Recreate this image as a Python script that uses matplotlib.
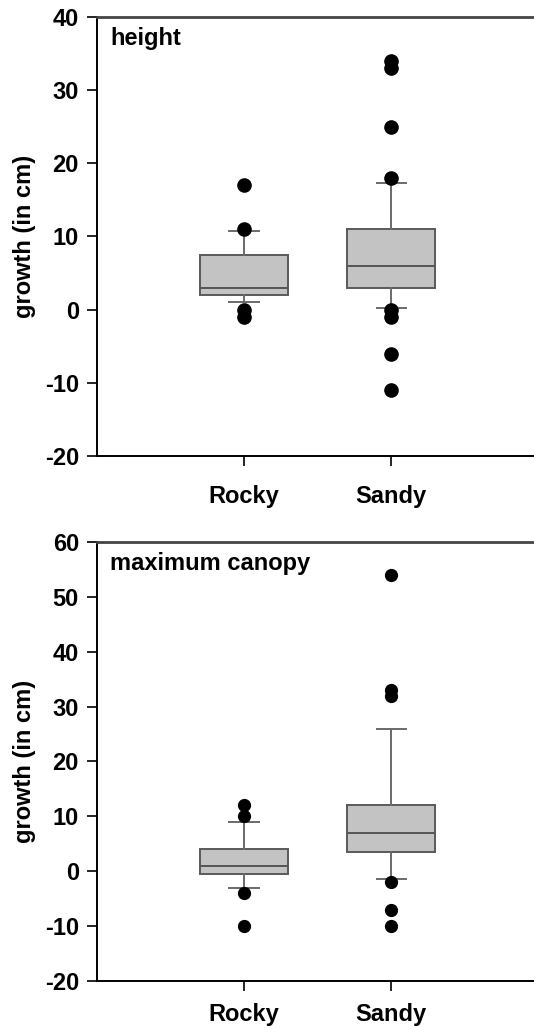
import matplotlib
matplotlib.use('Agg')
import matplotlib.pyplot as plt

plt.rcParams['font.family'] = ['Liberation Sans', 'DejaVu Sans']
plt.rcParams['font.weight'] = 'bold'
plt.rcParams['axes.unicode_minus'] = False

sites = ['Rocky', 'Sandy']

# height panel: quartiles, medians, whisker ends, outliers
height_q1 = [2, 3]
height_med = [3, 6]
height_q3 = [7.5, 11]
height_lo = [1, 0.2]
height_hi = [10.8, 17.3]
height_out = [[17, 11, 0, -1], [34, 33, 25, 18, 0, -1, -6, -11]]

# maximum canopy panel
canopy_q1 = [-0.5, 3.5]
canopy_med = [1, 7]
canopy_q3 = [4, 12]
canopy_lo = [-3, -1.5]
canopy_hi = [9, 26]
canopy_out = [[12, 10, -4, -10], [54, 33, 32, -2, -7, -10]]


def make_stats(q1, med, q3, lo, hi, out):
    stats = []
    for i in range(len(sites)):
        stats.append({'label': sites[i], 'q1': q1[i], 'med': med[i], 'q3': q3[i],
                      'whislo': lo[i], 'whishi': hi[i], 'fliers': out[i]})
    return stats


def draw(ax, stats, title, ylim, ms, xpad):
    ax.bxp(stats, positions=[1, 2], widths=0.6, capwidths=0.2, patch_artist=True,
           boxprops=dict(facecolor='#c3c3c3', edgecolor='#5a5a5a', linewidth=1.4),
           medianprops=dict(color='#555555', linewidth=1.4),
           whiskerprops=dict(color='#6a6a6a', linewidth=1.4),
           capprops=dict(color='#6a6a6a', linewidth=1.4),
           flierprops=dict(marker='o', markerfacecolor='black', markeredgecolor='black',
                           markersize=ms, linestyle='none'))
    ax.set_xlim(0, 2.97)
    ax.set_ylim(*ylim)
    ax.set_yticks(range(ylim[0], ylim[1] + 1, 10))
    ax.set_xticks([1, 2])
    ax.set_xticklabels(sites)
    ax.spines['right'].set_visible(False)
    ax.spines['top'].set_color('#444444')
    ax.spines['top'].set_linewidth(2)
    ax.spines['left'].set_linewidth(1.4)
    ax.spines['bottom'].set_linewidth(1.4)
    ax.tick_params(direction='out', length=7, width=1.2, labelsize=17)
    ax.tick_params(axis='y', pad=6)
    ax.tick_params(axis='x', pad=xpad)
    ax.set_ylabel('growth (in cm)', fontsize=17, fontweight='bold', labelpad=6)
    ax.text(0.03, 0.978, title, transform=ax.transAxes, va='top', ha='left',
            fontsize=17, fontweight='bold')


fig = plt.figure(figsize=(5.34, 10.29), dpi=100)
ax1 = fig.add_axes([0.1816, 0.5569, 0.8184, 0.4266])
ax2 = fig.add_axes([0.1816, 0.0467, 0.8184, 0.4266])

draw(ax1, make_stats(height_q1, height_med, height_q3, height_lo, height_hi, height_out),
     'height', (-20, 40), 9.5, 14)
draw(ax2, make_stats(canopy_q1, canopy_med, canopy_q3, canopy_lo, canopy_hi, canopy_out),
     'maximum canopy', (-20, 60), 8.5, 9)

fig.savefig('out.png', dpi=100)
